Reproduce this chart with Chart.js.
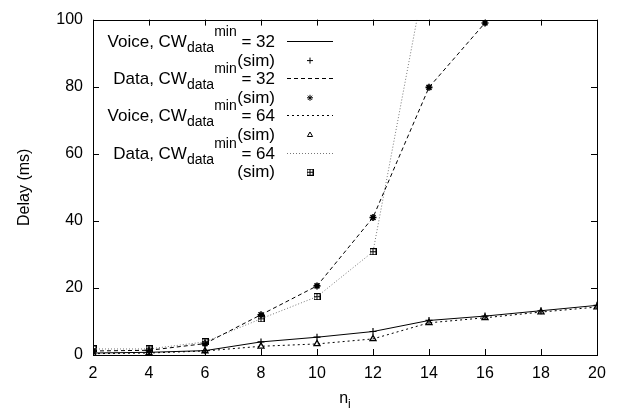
<!DOCTYPE html>
<html>
<head>
<meta charset="utf-8">
<title>Delay vs n_i</title>
<script src="https://cdn.jsdelivr.net/npm/chart.js@4.4.1/dist/chart.umd.min.js"></script>
<style>
    html, body { margin: 0; padding: 0; background: #fff; }
    #wrap { width: 618px; height: 410px; }
</style>
</head>
<body>
<div id="wrap"><canvas id="chart" width="618" height="410"></canvas></div>
<script>
// --- data ---
const nValues = [2, 4, 6, 8, 10, 12, 14, 16, 18, 20];
const xTicks = [2, 4, 6, 8, 10, 12, 14, 16, 18, 20];
const yTicks = [0, 20, 40, 60, 80, 100];

// model curves
const voice32 = [0.6, 0.8, 1.3, 3.9, 5.3, 7.0, 10.3, 11.6, 13.2, 14.8];
const data32 = [1.2, 1.4, 3.4, 12.0, 20.6, 41.0, 79.8, 99.0];
const voice64 = [0.4, 0.6, 1.2, 2.6, 3.3, 4.8, 9.6, 11.1, 12.8, 14.3];
const data64 = [1.8, 1.8, 3.9, 10.8, 17.4, 30.8, 119.0];

// simulation points
const simVoice32 = [0.6, 0.8, 1.3, 3.9, 5.3, 7.0, 10.3, 11.6, 13.2, 14.8];
const simData32 = [1.2, 1.4, 3.4, 12.0, 20.6, 41.0, 79.8, 99.0];
const simVoice64 = [0.4, 0.6, 1.2, 2.6, 3.3, 4.8, 9.6, 11.1, 12.8, 14.3];
const simData64 = [1.8, 1.8, 3.9, 10.8, 17.4, 30.8];

const keyNames = ['Voice', 'Data', 'Voice', 'Data'];
const keyCwMin = ['32', '32', '64', '64'];

const FONT = "'Liberation Sans', Arial, sans-serif";

// --- helpers ---
const toPoints = (vals) => vals.map((v, i) => ({ x: nValues[i], y: v }));

function boxPlus() {
    const c = document.createElement('canvas');
    c.width = 7; c.height = 7;
    const g = c.getContext('2d');
    g.strokeStyle = '#000';
    g.lineWidth = 1;
    g.strokeRect(0.5, 0.5, 6, 6);
    g.beginPath();
    g.moveTo(3.5, 1); g.lineTo(3.5, 6);
    g.moveTo(1, 3.5); g.lineTo(6, 3.5);
    g.stroke();
    return c;
}

const lineStyle = [
    { color: '#000', dash: [], width: 1 },
    { color: '#000', dash: [4, 3], width: 1 },
    { color: '#000', dash: [2, 3], width: 1 },
    { color: '#777', dash: [1, 2], width: 1 },
];
const simStyle = [
    { style: 'cross', radius: 3.5, width: 1.2 },
    { style: 'star', radius: 3.5, width: 1.6 },
    { style: 'triangle', radius: 3.5, width: 1.3 },
    { style: boxPlus(), radius: 3.5, width: 1 },
];

const lineSets = [voice32, data32, voice64, data64].map((vals, i) => ({
    label: keyNames[i] + ' ' + keyCwMin[i],
    data: toPoints(vals),
    borderColor: lineStyle[i].color,
    borderDash: lineStyle[i].dash,
    borderWidth: lineStyle[i].width,
    pointRadius: 0,
    fill: false,
    tension: 0,
}));

const simSets = [simVoice32, simData32, simVoice64, simData64].map((vals, i) => ({
    label: keyNames[i] + ' ' + keyCwMin[i] + ' (sim)',
    data: toPoints(vals),
    showLine: false,
    pointStyle: simStyle[i].style,
    pointRadius: simStyle[i].radius,
    pointBorderWidth: simStyle[i].width,
    pointBorderColor: '#000',
    pointBackgroundColor: 'rgba(0,0,0,0)',
}));

// --- frame, inward ticks, x title and the key ---
function richText(ctx, parts, right, base) {
    let total = 0;
    parts.forEach(p => { ctx.font = p.size + 'px ' + FONT; p.w = ctx.measureText(p.t).width; total += p.w; });
    let x = right - total;
    parts.forEach(p => {
        ctx.font = p.size + 'px ' + FONT;
        ctx.fillText(p.t, x, base + p.dy);
        x += p.w;
    });
}

const frameAndKey = {
    id: 'frameAndKey',
    afterDraw(chart) {
        const ctx = chart.ctx;
        const a = chart.chartArea;
        const xs = chart.scales.x, ys = chart.scales.y;
        ctx.save();
        ctx.strokeStyle = '#000';
        ctx.lineWidth = 1;
        ctx.setLineDash([]);
        ctx.beginPath();
        xs.ticks.forEach(t => {
            const px = Math.round(xs.getPixelForValue(t.value)) + 0.5;
            ctx.moveTo(px, a.bottom); ctx.lineTo(px, a.bottom - 6);
            ctx.moveTo(px, a.top); ctx.lineTo(px, a.top + 6);
        });
        ys.ticks.forEach(t => {
            const py = Math.round(ys.getPixelForValue(t.value)) + 0.5;
            ctx.moveTo(a.left, py); ctx.lineTo(a.left + 6, py);
            ctx.moveTo(a.right, py); ctx.lineTo(a.right - 6, py);
        });
        ctx.stroke();
        ctx.strokeRect(Math.round(a.left) + 0.5, Math.round(a.top) + 0.5, Math.round(a.width), Math.round(a.height));

        // x axis title n_i
        ctx.fillStyle = '#000';
        ctx.textBaseline = 'alphabetic';
        ctx.textAlign = 'left';
        const cx = (a.left + a.right) / 2;
        ctx.font = '16px ' + FONT;
        const nw = ctx.measureText('n').width;
        ctx.font = '12px ' + FONT;
        const iw = ctx.measureText('i').width;
        const x0 = cx - (nw + iw) / 2;
        ctx.font = '16px ' + FONT;
        ctx.fillText('n', x0, 403);
        ctx.font = '12px ' + FONT;
        ctx.fillText('i', x0 + nw, 408);

        // key
        const right = 275, lx0 = 287, lx1 = 333, px = 310;
        for (let i = 0; i < 4; i++) {
            const b1 = 47 + 18.6 * (2 * i);
            const b2 = 47 + 18.6 * (2 * i + 1);
            richText(ctx, [
                { t: keyNames[i] + ', CW', size: 17, dy: 0 },
                { t: 'data', size: 14, dy: 5 },
                { t: 'min', size: 14, dy: -11 },
                { t: ' = ' + keyCwMin[i], size: 17, dy: 0 },
            ], right, b1);
            richText(ctx, [{ t: '(sim)', size: 17, dy: 0 }], right, b2);

            const ls = chart.data.datasets[i];
            ctx.strokeStyle = ls.borderColor;
            ctx.lineWidth = ls.borderWidth;
            ctx.setLineDash(ls.borderDash);
            ctx.beginPath();
            ctx.moveTo(lx0, Math.round(b1 - 6) + 0.5);
            ctx.lineTo(lx1, Math.round(b1 - 6) + 0.5);
            ctx.stroke();
            ctx.setLineDash([]);

            const ss = chart.data.datasets[4 + i];
            ctx.strokeStyle = '#000';
            ctx.fillStyle = 'rgba(0,0,0,0)';
            Chart.helpers.drawPoint(ctx, {
                pointStyle: ss.pointStyle, radius: ss.pointRadius - 0.5,
                rotation: 0, borderWidth: 1
            }, px, b2 - 5);
            ctx.fillStyle = '#000';
        }
        ctx.restore();
    }
};

Chart.defaults.font.family = FONT;
Chart.defaults.color = '#000';

new Chart(document.getElementById('chart'), {
    type: 'line',
    data: { datasets: [...lineSets, ...simSets] },
    options: {
        responsive: false,
        animation: false,
        layout: { padding: { left: 0, right: 21, top: 14, bottom: 0 } },
        plugins: { legend: { display: false }, tooltip: { enabled: false } },
        scales: {
            x: {
                type: 'linear',
                min: 2, max: 20,
                grid: { display: false, drawTicks: false },
                border: { display: false },
                afterBuildTicks: (s) => { s.ticks = xTicks.map(v => ({ value: v })); },
                afterFit: (s) => { s.height = 55; },
                ticks: { font: { size: 16 }, padding: 9, maxRotation: 0 },
            },
            y: {
                min: 0, max: 100,
                grid: { display: false, drawTicks: false },
                border: { display: false },
                afterBuildTicks: (s) => { s.ticks = yTicks.map(v => ({ value: v })); },
                afterFit: (s) => { s.width = 93; },
                ticks: { font: { size: 16 }, padding: 10 },
                title: { display: true, text: 'Delay (ms)', font: { size: 16 }, padding: { top: 15, bottom: 0 } },
            }
        }
    },
    plugins: [frameAndKey]
});
</script>
</body>
</html>
